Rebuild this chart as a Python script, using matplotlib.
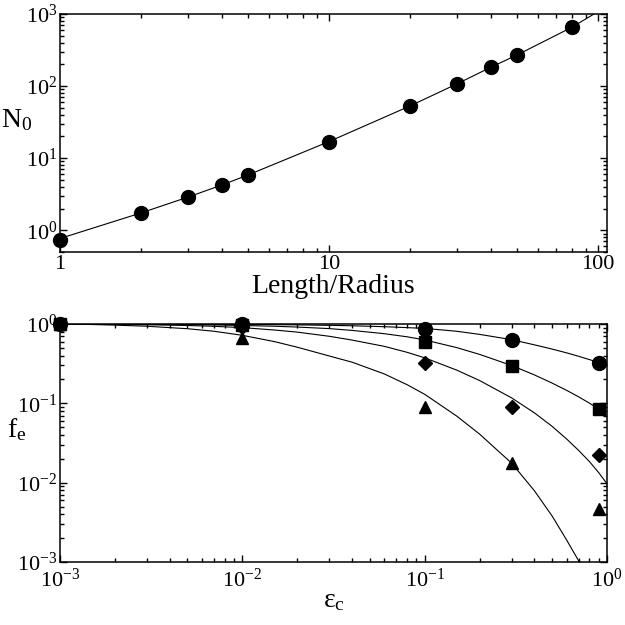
import numpy as np
import matplotlib
matplotlib.use('Agg')
import matplotlib.pyplot as plt
from matplotlib import ticker

plt.rcParams['font.family'] = ['Liberation Serif', 'DejaVu Serif']
plt.rcParams['mathtext.fontset'] = 'custom'
plt.rcParams['mathtext.rm'] = 'Liberation Serif'
plt.rcParams['mathtext.it'] = 'Liberation Serif:italic'
plt.rcParams['mathtext.default'] = 'regular'
plt.rcParams['axes.unicode_minus'] = False

# 上图: N0 随 Length/Radius
ratio = [1, 2, 3, 4, 5, 10, 20, 30, 40, 50, 80]
n0 = [0.73, 1.73, 2.88, 4.27, 5.87, 16.9, 53, 108, 183, 268, 651]
# 拟合曲线
ratio_fit = [1, 2, 3, 4, 5, 10, 20, 30, 40, 50, 80, 100]
n0_fit = [0.77, 1.74, 2.9, 4.25, 5.85, 17, 53, 108, 183, 270, 655, 1080]

# 下图: f_e 随 eps_c
eps = [0.001, 0.01, 0.1, 0.3, 0.9]
fe_circle = [1.0, 0.99, 0.865, 0.634, 0.327]
fe_square = [1.0, 0.97, 0.60, 0.294, 0.0857]
fe_diamond = [1.0, 0.93, 0.321, 0.091, 0.0222]
fe_triangle = [1.0, 0.67, 0.089, 0.0178, 0.0046]

# 理论曲线
eps_fit = [0.001, 0.002, 0.003, 0.005, 0.007, 0.01, 0.015, 0.02, 0.03, 0.04, 0.06, 0.08,
           0.1, 0.15, 0.2, 0.3, 0.4, 0.5, 0.6, 0.7, 0.8, 0.9, 1.0]
fit_circle = [1.0, 0.998, 0.996, 0.994, 0.991, 0.987, 0.981, 0.975, 0.962, 0.95, 0.925, 0.90,
              0.88, 0.81, 0.74, 0.635, 0.546, 0.483, 0.433, 0.3915, 0.3565, 0.3265, 0.30]
fit_square = [1.0, 0.995, 0.99, 0.982, 0.973, 0.958, 0.937, 0.915, 0.875, 0.83, 0.755, 0.69,
              0.63, 0.504, 0.414, 0.30, 0.228, 0.180, 0.146, 0.1205, 0.1007, 0.0849, 0.0718]
fit_diamond = [0.998, 0.988, 0.978, 0.958, 0.935, 0.90, 0.84, 0.79, 0.70, 0.627, 0.523, 0.44,
               0.375, 0.262, 0.194, 0.117, 0.0758, 0.0513, 0.0356, 0.0254, 0.0185, 0.0134, 0.0097]
eps_fit_tri = [0.001, 0.0015, 0.002, 0.003, 0.005, 0.007, 0.01, 0.015, 0.02, 0.03, 0.04, 0.06,
               0.08, 0.1, 0.15, 0.2, 0.3, 0.4, 0.5, 0.6, 0.7, 0.8]
fit_triangle = [1.0, 0.985, 0.968, 0.937, 0.872, 0.81, 0.72, 0.60, 0.51, 0.395, 0.33, 0.235,
                0.172, 0.13, 0.069, 0.041, 0.0176, 0.0079, 0.0038, 0.0019, 0.00103, 0.00058]

fig = plt.figure(figsize=(6.25, 6.25), dpi=100)
ax1 = fig.add_axes([60/625, 1-252/625, 547/625, 238/625])
ax2 = fig.add_axes([60/625, 1-562/625, 547/625, 238/625])

ax1.plot(ratio_fit, n0_fit, color='black', lw=0.8)
ax1.plot(ratio, n0, 'o', color='black', ms=10, clip_on=False)
ax1.set_xscale('log')
ax1.set_yscale('log')
ax1.set_xlim(1, 108)
ax1.set_ylim(0.5, 1000)
ax1.xaxis.set_major_formatter(ticker.FuncFormatter(lambda v, _: f'{v:g}'))
ax1.set_xlabel('Length/Radius', fontsize=20, labelpad=0)
ax1.set_ylabel('$N_0$', fontsize=20, rotation=0)
ax1.yaxis.set_label_coords(-0.079, 0.5)

ax2.plot(eps_fit, fit_circle, color='black', lw=0.8)
ax2.plot(eps_fit, fit_square, color='black', lw=0.8)
ax2.plot(eps_fit, fit_diamond, color='black', lw=0.8)
ax2.plot(eps_fit_tri, fit_triangle, color='black', lw=0.8)
ax2.plot(eps, fe_triangle, '^', color='black', ms=9, clip_on=False)
ax2.plot(eps, fe_diamond, 'D', color='black', ms=7, clip_on=False)
ax2.plot(eps, fe_square, 's', color='black', ms=8, clip_on=False)
ax2.plot(eps, fe_circle, 'o', color='black', ms=10, clip_on=False)
ax2.set_xscale('log')
ax2.set_yscale('log')
ax2.set_xlim(1e-3, 1)
ax2.set_ylim(1e-3, 1)
ax2.set_xlabel('$ε_c$', fontsize=20, labelpad=-3)
ax2.set_ylabel('$f_e$', fontsize=20, rotation=0)
ax2.yaxis.set_label_coords(-0.079, 0.5)

for ax in (ax1, ax2):
    for s in ax.spines.values():
        s.set_linewidth(1.1)
    ax.tick_params(which='both', direction='in', top=True, right=True,
                   labelsize=16, width=1, pad=2)
    ax.tick_params(which='major', length=5)
    ax.tick_params(which='minor', length=3)
    ax.yaxis.set_minor_formatter(ticker.NullFormatter())
    ax.xaxis.set_minor_formatter(ticker.NullFormatter())

ax2.tick_params(axis='x', which='both', pad=5)

fig.savefig('out.png', dpi=100)
